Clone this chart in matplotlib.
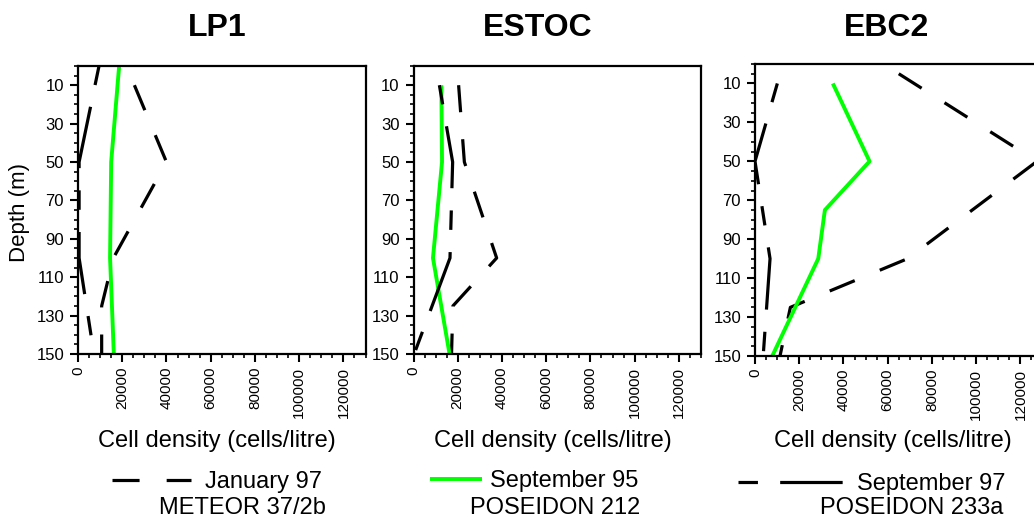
import matplotlib.pyplot as plt
from matplotlib.ticker import MultipleLocator, FixedLocator

plt.rcParams['font.family'] = ['Liberation Sans', 'DejaVu Sans']
plt.rcParams['lines.scale_dashes'] = False

# ---- data (depth in m, cell density in cells/litre) ----
stations = ["LP1", "ESTOC", "EBC2"]

lp1_jan97_depth = [10, 50, 100, 125, 150]
lp1_jan97 = [25500, 40000, 16000, 10700, 10700]
lp1_sep95_depth = [0, 50, 100, 150]
lp1_sep95 = [18600, 15000, 14500, 16200]
lp1_sep97_depth = [0, 50, 100, 150]
lp1_sep97 = [9500, 500, 500, 7200]

estoc_jan97_depth = [10, 50, 100, 125, 150]
estoc_jan97 = [20400, 23000, 37600, 17800, 17200]
estoc_sep95_depth = [10, 50, 100, 150]
estoc_sep95 = [12600, 12900, 8800, 16300]
estoc_sep97_depth = [10, 50, 100, 150]
estoc_sep97 = [11700, 17700, 16500, 300]

ebc2_jan97_depth = [5, 50, 100, 125, 150]
ebc2_jan97 = [65000, 127500, 69000, 16000, 11300]
ebc2_sep95_depth = [10, 50, 75, 100, 150]
ebc2_sep95 = [35200, 51800, 31600, 28600, 7800]
ebc2_sep97_depth = [10, 50, 100, 150]
ebc2_sep97 = [10100, 0, 6800, 3700]

series_labels = ["January 97", "September 95", "September 97"]
cruise_labels = ["METEOR 37/2b", "POSEIDON 212", "POSEIDON 233a"]

x_ticks = [0, 20000, 40000, 60000, 80000, 100000, 120000]
y_ticks = [10, 30, 50, 70, 90, 110, 130, 150]

data = {
    "LP1": [(lp1_jan97, lp1_jan97_depth), (lp1_sep95, lp1_sep95_depth), (lp1_sep97, lp1_sep97_depth)],
    "ESTOC": [(estoc_jan97, estoc_jan97_depth), (estoc_sep95, estoc_sep95_depth), (estoc_sep97, estoc_sep97_depth)],
    "EBC2": [(ebc2_jan97, ebc2_jan97_depth), (ebc2_sep95, ebc2_sep95_depth), (ebc2_sep97, ebc2_sep97_depth)],
}

# line styles: dashes in points
styles = [
    dict(color="black", linewidth=2.3, dashes=(19.5, 19.5)),
    dict(color="#00ff00", linewidth=2.8, linestyle="-"),
    dict(color="black", linewidth=2.3, dashes=(14, 16, 45, 16)),
]

W, H = 1034, 522


def px_box(left, top, right, bottom):
    return [left / W, 1 - bottom / H, (right - left) / W, (bottom - top) / H]


boxes = [px_box(78, 66, 365.5, 354), px_box(413.5, 66, 701, 354), px_box(755, 64, 1042.5, 356)]
title_x = [217.5, 537.5, 886.5]
xlabel_x = [217, 553, 893]

fig = plt.figure(figsize=(10.34, 5.22), dpi=100)

handles = []
for i, name in enumerate(stations):
    ax = fig.add_axes(boxes[i])
    lines = []
    for (vals, depth), st in zip(data[name], styles):
        ln, = ax.plot(vals, depth, solid_capstyle="butt", **st)
        lines.append(ln)
    handles.append(lines[i])

    ax.set_xlim(0, 130000)
    ax.set_ylim(150, 0)
    ax.xaxis.set_major_locator(FixedLocator(x_ticks))
    ax.xaxis.set_minor_locator(MultipleLocator(5000))
    ax.yaxis.set_major_locator(FixedLocator(y_ticks))
    ax.yaxis.set_minor_locator(MultipleLocator(5))
    ax.set_xticklabels([str(t) for t in x_ticks], rotation=90, fontsize=11)
    ax.set_yticklabels([str(t) for t in y_ticks], fontsize=12)
    ax.tick_params(which="major", direction="out", length=6, width=1.5, pad=3)
    ax.tick_params(which="minor", direction="out", length=3, width=1.2)
    ax.tick_params(axis="y", pad=4)
    for sp in ax.spines.values():
        sp.set_linewidth(1.6)

    fig.text(title_x[i] / W, 1 - 28 / H, name, ha="center", va="center",
             fontsize=23, fontweight="bold")
    fig.text(xlabel_x[i] / W, 1 - 441 / H, "Cell density (cells/litre)",
             ha="center", va="center", fontsize=17)

fig.text(20 / W, 1 - 212 / H, "Depth (m)", rotation=90, ha="center", va="center", fontsize=16)

# one legend entry under each panel
leg_x = [112, 430, 738]
leg_y = [482, 481, 484]
handle_len = [79 / 23.6, 52 / 23.6, 107 / 23.6]
text_pad = [0.6, 0.35, 0.5]
cruise_right = [326, 640, 1003]
for i in range(3):
    fig.legend(handles=[handles[i]], labels=[series_labels[i]], loc="center left",
               bbox_to_anchor=(leg_x[i] / W, 1 - leg_y[i] / H), frameon=False,
               fontsize=17, handlelength=handle_len[i], handletextpad=text_pad[i],
               borderpad=0, borderaxespad=0)
    fig.text(cruise_right[i] / W, 1 - 508 / H, cruise_labels[i], ha="right",
             va="center", fontsize=17)

fig.savefig("out.png", dpi=100)
